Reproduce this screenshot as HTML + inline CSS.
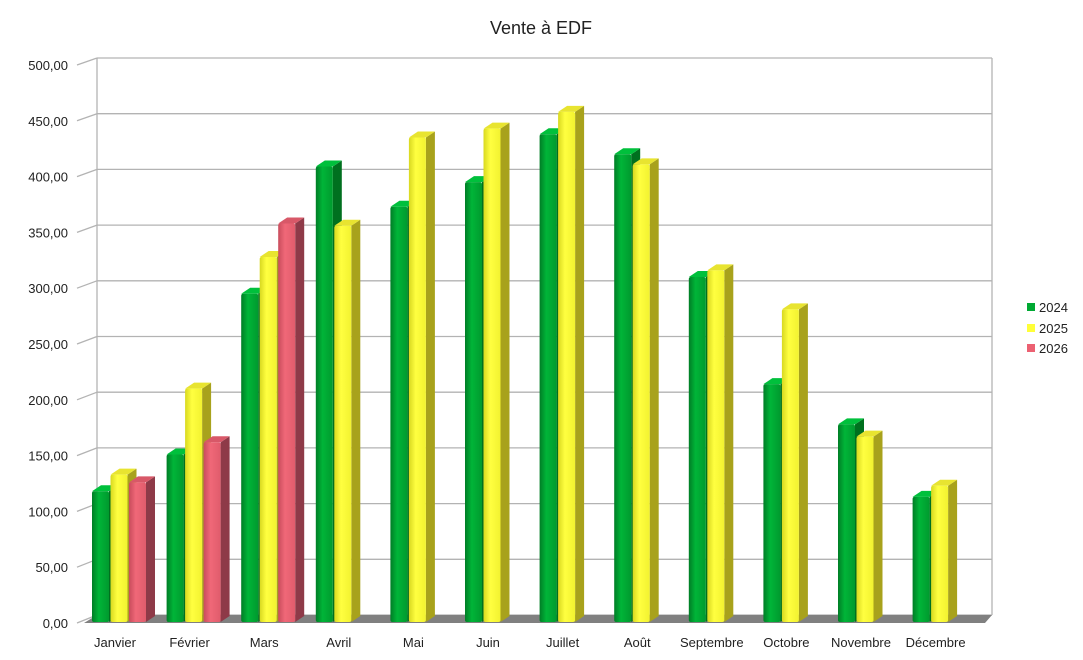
<!DOCTYPE html>
<html><head><meta charset="utf-8"><style>body{margin:0;background:#fff}svg{display:block;font-family:"Liberation Sans",sans-serif}</style></head>
<body>
<svg width="1083" height="660" viewBox="0 0 1083 660">
<defs>
<linearGradient id="g0" x1="0" x2="1"><stop offset="0" stop-color="#007d26"/><stop offset=".4" stop-color="#00b538"/><stop offset="1" stop-color="#009a2e"/></linearGradient>
<linearGradient id="g1" x1="0" x2="1"><stop offset="0" stop-color="#d8d820"/><stop offset=".4" stop-color="#ffff40"/><stop offset="1" stop-color="#f2f230"/></linearGradient>
<linearGradient id="g2" x1="0" x2="1"><stop offset="0" stop-color="#c84c5c"/><stop offset=".4" stop-color="#f06878"/><stop offset="1" stop-color="#e05c6c"/></linearGradient>
</defs>
<text x="541" y="34" font-size="18" text-anchor="middle" fill="#222">Vente à EDF</text>
<g id="grid" stroke="#b3b3b3" stroke-width="1.3" fill="none"></g>
<polygon points="84,623 985,623 992,615 97,615" fill="#808080"/>
<g id="bars"></g>
<g font-size="13" fill="#222" id="labels"></g>
<g font-size="13" fill="#222">
<rect x="1027" y="303" width="8" height="8" fill="#00a933"/><text x="1039" y="312">2024</text>
<rect x="1027" y="324" width="8" height="8" fill="#ffff38"/><text x="1039" y="333">2025</text>
<rect x="1027" y="344" width="8" height="8" fill="#ec6172"/><text x="1039" y="353">2026</text>
</g>
</svg>
<script>
var ns="http://www.w3.org/2000/svg";
function el(p,t,a,txt){var e=document.createElementNS(ns,t);for(var k in a)e.setAttribute(k,a[k]);if(txt!=null)e.textContent=txt;p.appendChild(e);return e;}
var grid=document.getElementById('grid'),lab=document.getElementById('labels'),bars=document.getElementById('bars');
for(var k=0;k<=10;k++){var yb=615-k*55.7,yf=623-k*55.8;
 el(grid,'line',{x1:97,y1:yb,x2:992,y2:yb});
 el(grid,'line',{x1:77,y1:yf,x2:97,y2:yb});
 el(lab,'text',{x:68,y:yf+5,'text-anchor':'end'},(k*50).toFixed(2).replace('.',','));}
el(grid,'line',{x1:97,y1:58,x2:97,y2:615});el(grid,'line',{x1:992,y1:58,x2:992,y2:615});
var names=["Janvier","Février","Mars","Avril","Mai","Juin","Juillet","Août","Septembre","Octobre","Novembre","Décembre"];
var data=[[118,133,126],[151,210,162],[295,328,358],[409,356],[373,435],[395,443],[438,458],[420,411],[310,316],[214,281],[178,167],[113,123]];
var sideC=["#00701f","#a8a21c","#8e3a48"],topC=["#00c03c","#e8e430","#d85868"];
var dx=9,dy=-6,w=17;
names.forEach(function(n,i){var c=115+i*74.6;
 el(lab,'text',{x:c,y:647,'text-anchor':'middle'},n);
 data[i].forEach(function(v,j){var x=c-23+j*18.5,yt=623-v*1.116,yb=622;
  el(bars,'polygon',{points:[x+w,yb,x+w+dx,yb+dy,x+w+dx,yt+dy,x+w,yt].join(' '),fill:sideC[j]});
  el(bars,'polygon',{points:[x,yt,x+dx,yt+dy,x+w+dx,yt+dy,x+w,yt].join(' '),fill:topC[j]});
  el(bars,'rect',{x:x,y:yt,width:w,height:yb-yt,fill:'url(#g'+j+')',rx:2});
 });});
</script>
</body></html>
